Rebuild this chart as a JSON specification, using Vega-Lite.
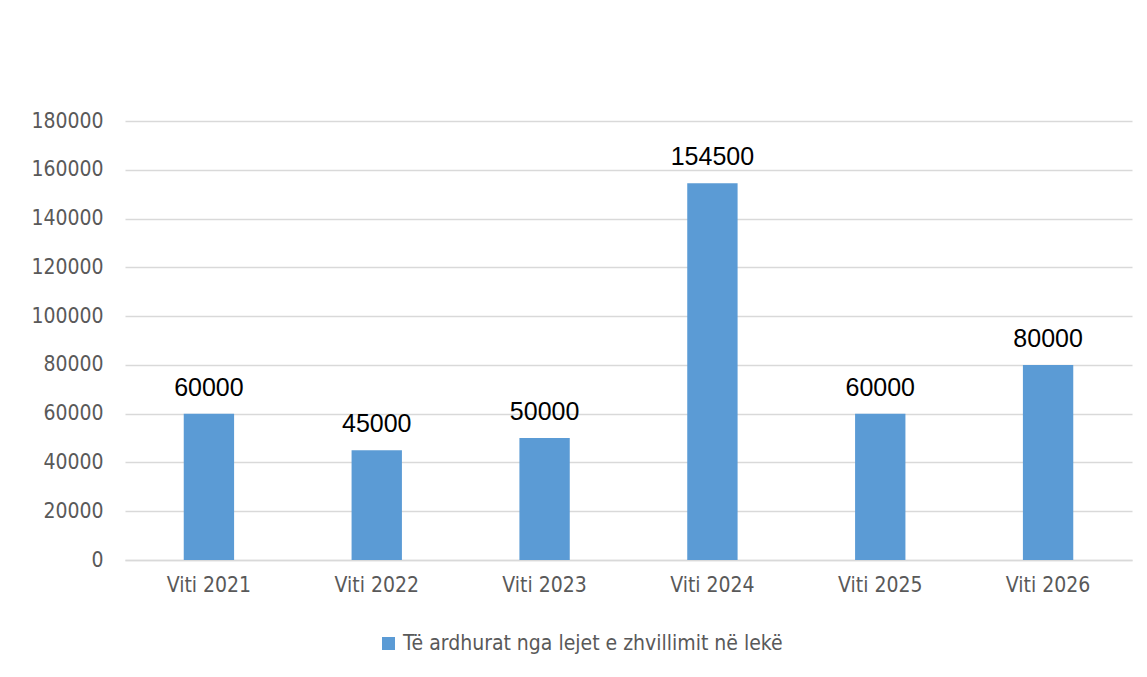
{
  "$schema": "https://vega.github.io/schema/vega-lite/v6.json",
  "width": 1007,
  "height": 439,
  "autosize": {"type": "none"},
  "padding": {"left": 125, "top": 121, "right": 15, "bottom": 117},
  "background": "white",
  "config": {"view": {"stroke": null}},
  "data": {
    "values": [
      {"year": "Viti 2021", "value": 60000, "series": "Të ardhurat nga lejet e zhvillimit në lekë"},
      {"year": "Viti 2022", "value": 45000, "series": "Të ardhurat nga lejet e zhvillimit në lekë"},
      {"year": "Viti 2023", "value": 50000, "series": "Të ardhurat nga lejet e zhvillimit në lekë"},
      {"year": "Viti 2024", "value": 154500, "series": "Të ardhurat nga lejet e zhvillimit në lekë"},
      {"year": "Viti 2025", "value": 60000, "series": "Të ardhurat nga lejet e zhvillimit në lekë"},
      {"year": "Viti 2026", "value": 80000, "series": "Të ardhurat nga lejet e zhvillimit në lekë"}
    ]
  },
  "encoding": {
    "x": {
      "field": "year", "type": "nominal", "sort": null,
      "scale": {"paddingInner": 0.7, "paddingOuter": 0.35},
      "axis": {
        "title": null, "labelAngle": 0, "ticks": false,
        "domainColor": "#D9D9D9", "domainWidth": 1.5,
        "labelFont": "DejaVu Sans Condensed, DejaVu Sans", "labelFontSize": 21,
        "labelColor": "#595959", "labelPadding": 14
      }
    },
    "y": {
      "field": "value", "type": "quantitative",
      "scale": {"domain": [0, 180000], "nice": false},
      "axis": {
        "title": null, "values": [0,20000,40000,60000,80000,100000,120000,140000,160000,180000],
        "format": "d", "ticks": false, "domain": false, "labelOverlap": false,
        "gridColor": "#D9D9D9", "gridWidth": 1.5,
        "labelFont": "DejaVu Sans Condensed, DejaVu Sans", "labelFontSize": 21,
        "labelColor": "#595959", "labelPadding": 22
      }
    }
  },
  "layer": [
    {
      "mark": {"type": "bar", "color": "#5B9BD5"},
      "encoding": {
        "color": {
          "field": "series", "type": "nominal",
          "scale": {"range": ["#5B9BD5"]},
          "legend": {
            "title": null, "orient": "none", "legendX": 253, "legendY": 512,
            "symbolType": "square", "symbolSize": 170, "symbolStrokeWidth": 0,
            "labelFont": "DejaVu Sans Condensed, DejaVu Sans", "labelFontSize": 21,
            "labelColor": "#595959", "labelOffset": 4, "labelLimit": 800
          }
        }
      }
    },
    {
      "mark": {
        "type": "text", "baseline": "alphabetic", "dy": -18,
        "font": "Liberation Sans", "fontSize": 25, "color": "#000000"
      },
      "encoding": {"text": {"field": "value", "type": "quantitative", "format": "d"}}
    }
  ]
}
